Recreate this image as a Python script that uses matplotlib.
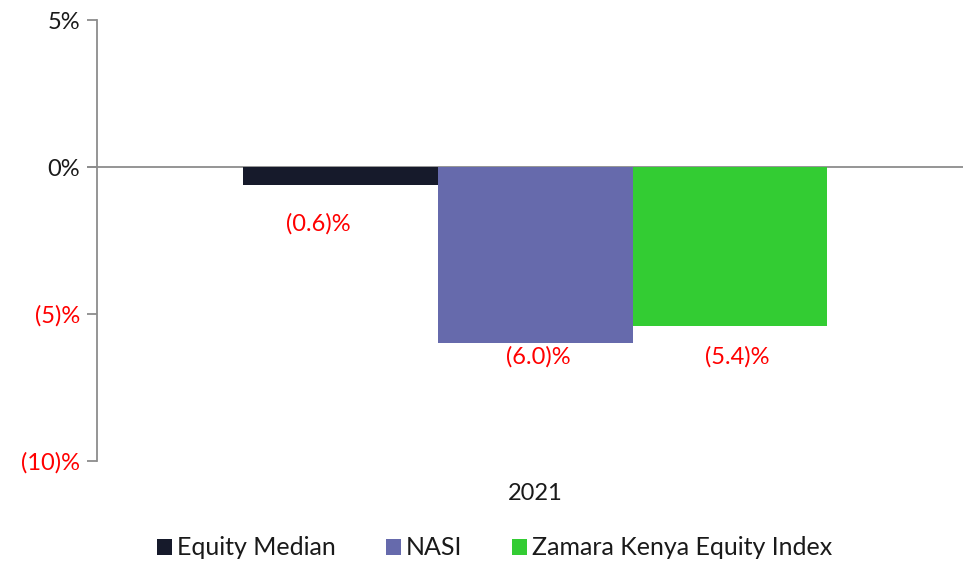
import numpy as np
import matplotlib
matplotlib.use("Agg")
import matplotlib.pyplot as plt
from matplotlib.ticker import FuncFormatter

plt.rcParams['font.family'] = ['Lato', 'DejaVu Sans']

# ---------------- data ----------------
category = ['2021']
series = ['Equity Median', 'NASI', 'Zamara Kenya Equity Index']
values = [-0.6, -6.0, -5.4]
labels = ['(0.6)%', '(6.0)%', '(5.4)%']
colors = ['#161a2b', '#666aac', '#33cc33']
label_dy = [-28, -9.5, -22]  # label centre below bar end, points
label_dx = [-16, 2.5, 5.4]

# ---------------- figure ----------------
fig = plt.figure(figsize=(9.63, 5.62), dpi=100)
ax = fig.add_axes([0.1007, 0.1797, 0.8993, 0.7847])

w = 0.225
x0 = 0.0
offs = (np.arange(len(series)) - 1) * w
for i in range(len(series)):
    ax.bar(x0 + offs[i], values[i], width=w, color=colors[i], label=series[i], zorder=2)
    ax.annotate(labels[i], xy=(x0 + offs[i], values[i]), xytext=(label_dx[i], label_dy[i]),
                textcoords='offset points', ha='center', va='center', color='#ff0000', fontsize=17)

ax.axhline(0, color='#8c8c8c', lw=1.3, zorder=1, clip_on=False, xmin=-0.01)

ax.set_xlim(-0.506, 0.494)
ax.set_ylim(-10, 5)
ax.set_yticks([5, 0, -5, -10])

def fmt(v, pos):
    if v < 0:
        return '(%d)%%' % abs(v)
    return '%d%%' % v
ax.yaxis.set_major_formatter(FuncFormatter(fmt))
for t, v in zip(ax.get_yticklabels(), [5, 0, -5, -10]):
    t.set_color('#ff0000' if v < 0 else '#1a1a1a')
ax.tick_params(axis='y', length=7, width=1.3, color='#8c8c8c', labelsize=17, pad=5)

ax.set_xticks([x0])
ax.set_xticklabels(category)
ax.tick_params(axis='x', length=0, labelsize=17, labelcolor='#1a1a1a', pad=16)

for s in ['top', 'right', 'bottom']:
    ax.spines[s].set_visible(False)
ax.spines['left'].set_color('#8c8c8c')
ax.spines['left'].set_linewidth(1.3)

fig.legend(loc='center', bbox_to_anchor=(0.5135, 0.025), ncol=3, frameon=False,
           fontsize=18, handlelength=0.6, handleheight=0.6, handletextpad=0.2,
           columnspacing=2.0, labelcolor='#1a1a1a')

fig.savefig('out.png', dpi=100)
